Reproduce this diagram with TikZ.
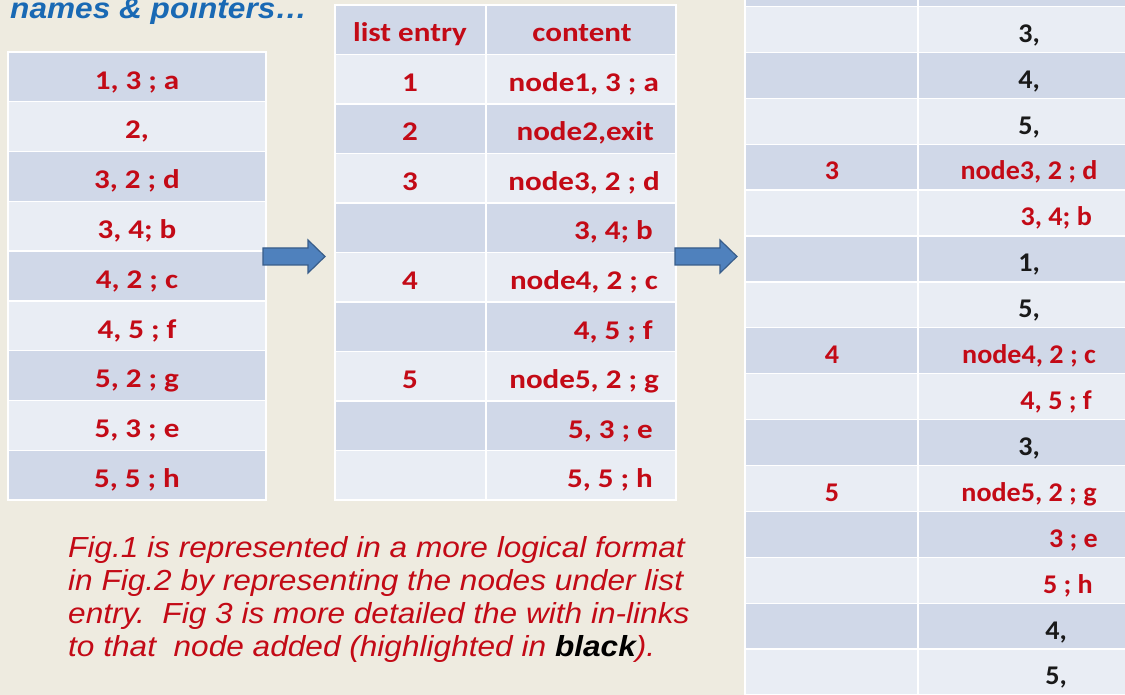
\documentclass[tikz,border=0pt]{standalone}
\usepackage{fontspec}
\setmainfont{Carlito}
\newfontfamily\arialf{Liberation Sans}

\definecolor{bgcream}{RGB}{238,235,224}
\definecolor{bandA}{RGB}{208,216,232}
\definecolor{bandB}{RGB}{233,237,244}
\definecolor{redtxt}{RGB}{195,10,22}
\definecolor{blktxt}{RGB}{25,25,25}
\definecolor{titleblue}{RGB}{25,105,180}
\definecolor{arrowfill}{RGB}{79,129,189}
\definecolor{arrowline}{RGB}{56,93,138}

% horizontal stretch of the table lettering
\newcommand{\wideL}[1]{\scalebox{1.15}[1]{#1}}
\newcommand{\wideR}[1]{\scalebox{1.04}[1]{#1}}

\tikzset{
  cellrow/.style={fill=#1, draw=white, line width=1.3pt},
  celltxt/.style={inner sep=0pt, font=\bfseries\fontsize{27}{31}\selectfont, text=redtxt},
  blockarrow/.style={fill=arrowfill, draw=arrowline, line width=1.2pt, line join=miter},
}

\begin{document}
\begin{tikzpicture}[x=1pt,y=-1pt]
\useasboundingbox (0,0) rectangle (1125,695);
\fill[bgcream] (0,0) rectangle (1125,695);
\clip (0,0) rectangle (1125,695);

% heading
\node[anchor=base west, inner sep=0pt, font=\arialf\bfseries\itshape\fontsize{29}{34}\selectfont, text=titleblue]
  (title) at (10,19) {\scalebox{1.09}[1]{names \& pointers…}};

% ---- Fig.1 : flat list of links ----
\foreach \t [count=\i from 0] in {{1, 3 ; a},{2,},{3, 2 ; d},{3, 4; b},{4, 2 ; c},{4, 5 ; f},{5, 2 ; g},{5, 3 ; e},{5, 5 ; h}}{
  \pgfmathsetmacro\yt{52+49.78*\i}
  \pgfmathtruncatemacro\odd{mod(\i,2)}
  \ifnum\odd=0 \def\bandcol{bandA}\else\def\bandcol{bandB}\fi
  \path[cellrow=\bandcol] (8,\yt) rectangle (266,\yt+49.78);
  \node[celltxt, anchor=base] (L\i) at (137,\yt+37.2) {\wideL{\t}};
}

% ---- Fig.2 : grouped under list entry ----
\foreach \a/\b/\xb/\anc [count=\i from 0] in {
    {list entry}/{content}/582/base,
    1/{node1, 3 ; a}/659/base east,
    2/{node2,exit}/654/base east,
    3/{node3, 2 ; d}/660/base east,
    {}/{3, 4; b}/653/base east,
    4/{node4, 2 ; c}/658/base east,
    {}/{4, 5 ; f}/653/base east,
    5/{node5, 2 ; g}/659/base east,
    {}/{5, 3 ; e}/653/base east,
    {}/{5, 5 ; h}/653/base east}{
  \pgfmathsetmacro\yt{5+49.5*\i}
  \pgfmathtruncatemacro\odd{mod(\i,2)}
  \ifnum\odd=0 \def\bandcol{bandA}\else\def\bandcol{bandB}\fi
  \path[cellrow=\bandcol] (335,\yt) rectangle (486,\yt+49.5);
  \path[cellrow=\bandcol] (486,\yt) rectangle (676,\yt+49.5);
  \node[celltxt, anchor=base] (Ma\i) at (410,\yt+37) {\wideL{\a}};
  \node[celltxt, anchor=\anc] (Mb\i) at (\xb,\yt+37) {\wideL{\b}};
}

% ---- Fig.3 : with in-links (first row runs off the top) ----
\foreach \a/\b/\tc/\xb/\anc [count=\i from 0] in {
    {}/{node2,exit}/redtxt/1029/base,
    {}/{3,}/blktxt/1029/base,
    {}/{4,}/blktxt/1029/base,
    {}/{5,}/blktxt/1029/base,
    3/{node3, 2 ; d}/redtxt/1029/base,
    {}/{3, 4; b}/redtxt/1092/base east,
    {}/{1,}/blktxt/1029/base,
    {}/{5,}/blktxt/1029/base,
    4/{node4, 2 ; c}/redtxt/1029/base,
    {}/{4, 5 ; f}/redtxt/1092/base east,
    {}/{3,}/blktxt/1029/base,
    5/{node5, 2 ; g}/redtxt/1029/base,
    {}/{3 ; e}/redtxt/1098/base east,
    {}/{5 ; h}/redtxt/1093/base east,
    {}/{4,}/blktxt/1056/base,
    {}/{5,}/blktxt/1056/base}{
  \pgfmathsetmacro\yt{6.5+45.9*(\i-1)}
  \pgfmathtruncatemacro\odd{mod(\i,2)}
  \ifnum\odd=0 \def\bandcol{bandA}\else\def\bandcol{bandB}\fi
  \path[cellrow=\bandcol] (745,\yt) rectangle (918,\yt+45.9);
  \path[cellrow=\bandcol] (918,\yt) rectangle (1140,\yt+45.9);
  \node[celltxt, anchor=base] (Ra\i) at (832,\yt+35.8) {\wideR{\a}};
  \node[celltxt, anchor=\anc, text=\tc] (Rb\i) at (\xb,\yt+35.8) {\wideR{\b}};
}

% block arrows between the figures
\path[blockarrow] (263,248) -- (308,248) -- (308,240) -- (325,256.5) -- (308,273) -- (308,265) -- (263,265) -- cycle;
\path[blockarrow] (675,248) -- (720,248) -- (720,240) -- (737,256.5) -- (720,273) -- (720,265) -- (675,265) -- cycle;

% caption
\node[anchor=base west, inner sep=0pt, font=\arialf\itshape\fontsize{29}{33}\selectfont, text=redtxt]
  (note) at (68,557) {\scalebox{1.09}[1]{\begin{tabular}[t]{@{}l@{}}
    Fig.1 is represented in a more logical format\\
    in Fig.2 by representing the nodes under list\\
    entry.\ \ Fig 3 is more detailed the with in-links\\
    to that\ \ node added (highlighted in {\bfseries\color{black}black}).
  \end{tabular}}};
\end{tikzpicture}
\end{document}
